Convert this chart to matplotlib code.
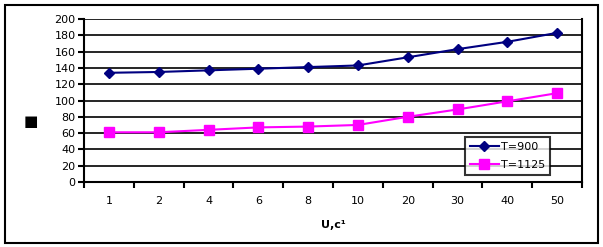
import matplotlib
matplotlib.use("Agg")
import matplotlib.pyplot as plt
from matplotlib.patches import Rectangle

categories = ["1", "2", "4", "6", "8", "10", "20", "30", "40", "50"]
t900 = [134, 135, 137, 139, 141, 143, 153, 163, 172, 183]
t1125 = [61, 61, 64, 67, 68, 70, 80, 89, 99, 109]
yticks = [0, 20, 40, 60, 80, 100, 120, 140, 160, 180, 200]

plt.rcParams['font.family'] = ['DejaVu Sans']
fig = plt.figure(figsize=(6.03, 2.47), dpi=100)
fig.patch.set_facecolor('white')
fig.patches.append(Rectangle((5/603, 4/247), 593/603, 238/247, transform=fig.transFigure,
                             fill=False, edgecolor='black', linewidth=1.5))

ax = fig.add_axes([84/603, 1-182/247, 498/603, 163/247])
x = list(range(len(categories)))
ax.plot(x, t900, color='#000080', marker='D', markersize=5, linewidth=1.5, label='T=900')
ax.plot(x, t1125, color='#FF00FF', marker='s', markersize=7, linewidth=1.5, label='T=1125')

ax.set_xlim(-0.5, len(categories) - 0.5)
ax.set_ylim(0, 200)
ax.set_yticks(yticks)
ax.set_yticklabels([str(v) for v in yticks], fontsize=8)
ax.yaxis.grid(True, color='black', linewidth=1.2)
ax.set_axisbelow(True)

ax.set_xticks([i + 0.5 for i in range(-1, len(categories))], minor=False)
ax.set_xticklabels([])
ax.set_xticks(x, minor=True)
ax.set_xticklabels(categories, minor=True, fontsize=8)
ax.tick_params(axis='x', which='minor', length=0, pad=10)
ax.tick_params(axis='x', which='major', length=4, width=1.5, direction='out')
ax.tick_params(axis='y', length=4, width=1.5, direction='out', pad=2)

for side in ['left', 'bottom', 'right', 'top']:
    ax.spines[side].set_linewidth(1.5)
    ax.spines[side].set_color('black')
ax.spines['top'].set_visible(False)

ax.set_xlabel('U,c¹', fontsize=8, fontweight='bold', labelpad=10)
fig.text(31/603, 1-122/247, '■', fontsize=11, ha='center', va='center')

leg = ax.legend(loc='lower right', bbox_to_anchor=(466/498, (182-175)/163), fontsize=8,
                frameon=True, fancybox=False, edgecolor='black', handlelength=2.6,
                borderpad=0.45, labelspacing=0.75, handletextpad=0.2, borderaxespad=0)
leg.get_frame().set_linewidth(1.5)

fig.savefig('out.png', dpi=100, facecolor='white')
